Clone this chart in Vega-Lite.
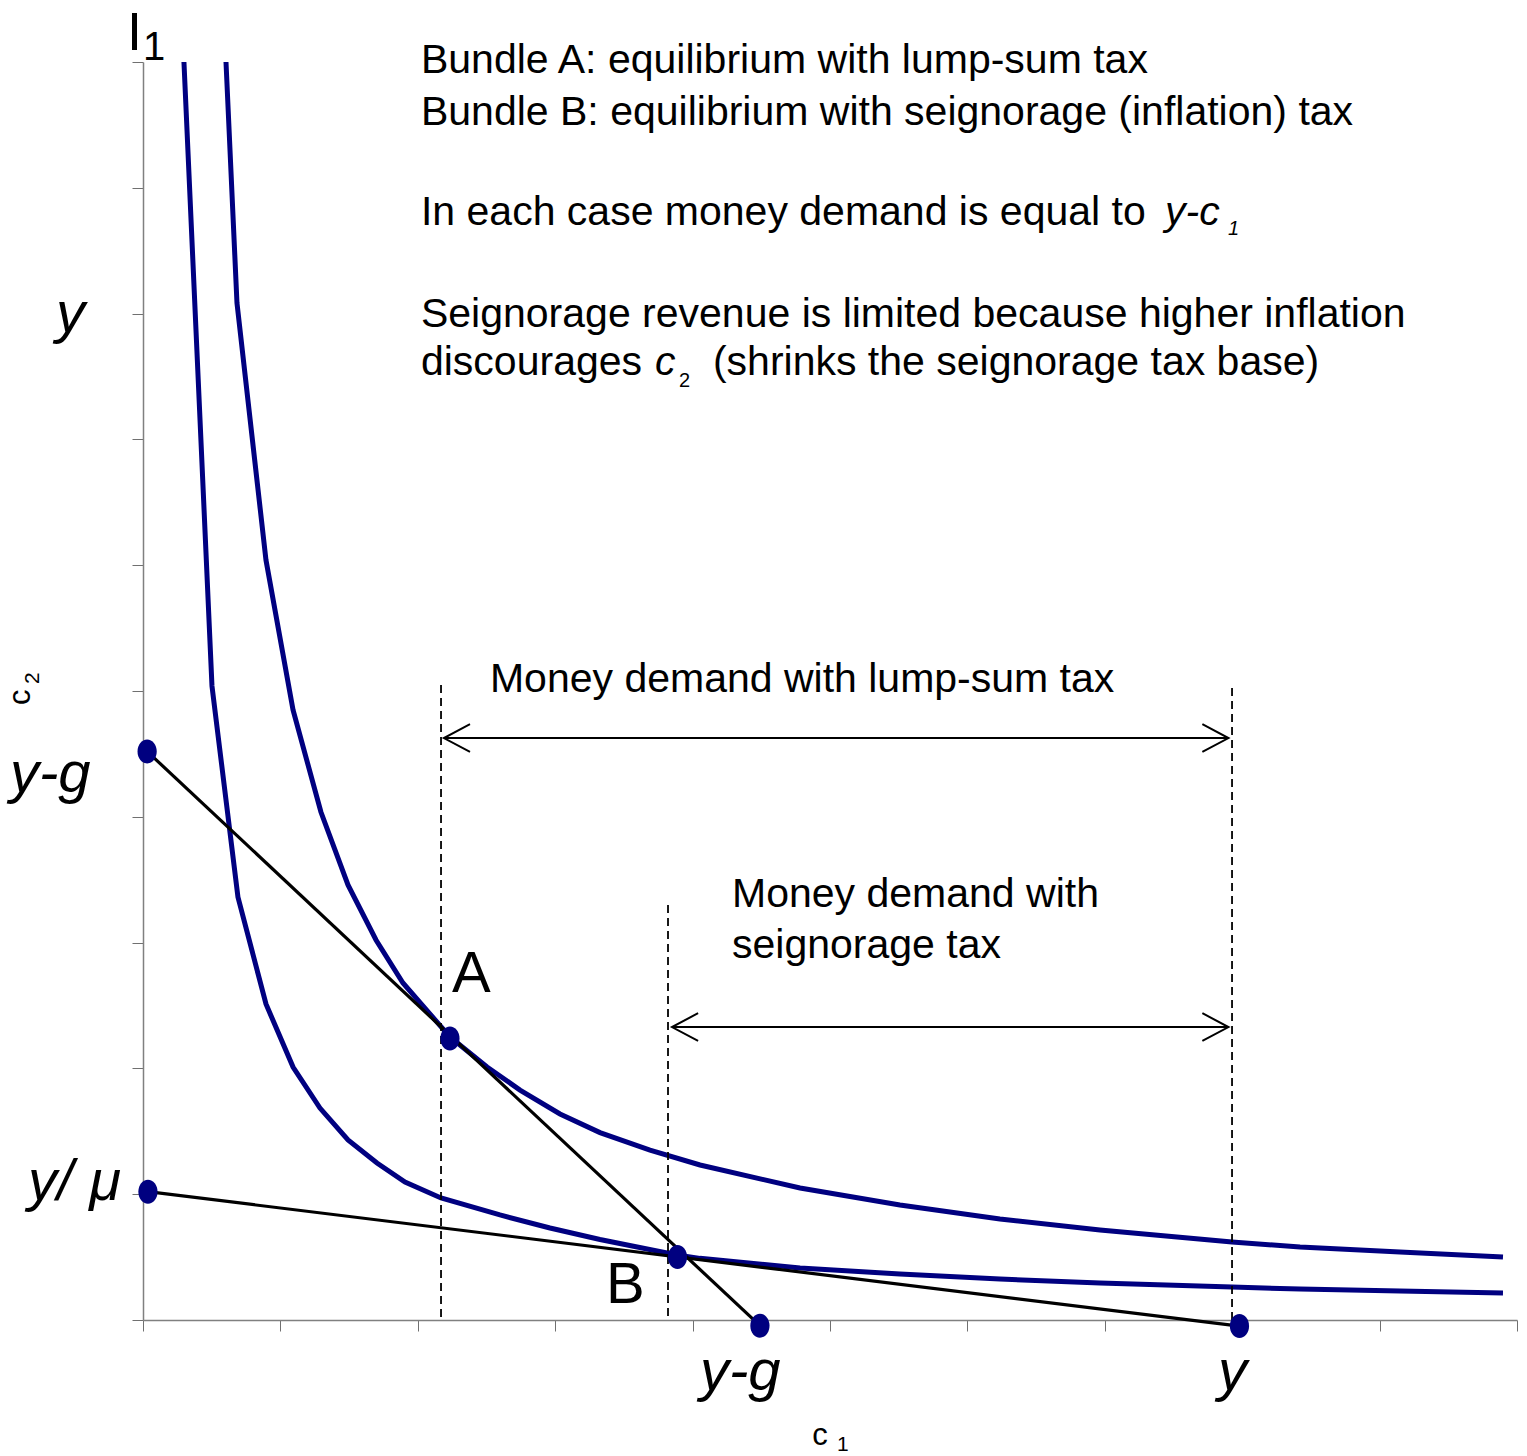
{
  "$schema": "https://vega.github.io/schema/vega-lite/v6.json",
  "width": 1374,
  "height": 1258,
  "autosize": {"type": "none"},
  "padding": {"left": 143, "top": 62, "right": 10, "bottom": 136},
  "background": "white",
  "config": {"view": {"stroke": null}},
  "datasets": {
    "curves": [
      {"id": "outer", "x": 0.604, "y": 10.0},
      {"id": "outer", "x": 0.684, "y": 8.084},
      {"id": "outer", "x": 0.895, "y": 6.041},
      {"id": "outer", "x": 1.092, "y": 4.849},
      {"id": "outer", "x": 1.295, "y": 4.038},
      {"id": "outer", "x": 1.492, "y": 3.458},
      {"id": "outer", "x": 1.696, "y": 3.021},
      {"id": "outer", "x": 1.892, "y": 2.679},
      {"id": "outer", "x": 2.234, "y": 2.25},
      {"id": "outer", "x": 2.504, "y": 2.011},
      {"id": "outer", "x": 2.744, "y": 1.828},
      {"id": "outer", "x": 3.035, "y": 1.638},
      {"id": "outer", "x": 3.326, "y": 1.49},
      {"id": "outer", "x": 3.69, "y": 1.351},
      {"id": "outer", "x": 4.054, "y": 1.232},
      {"id": "outer", "x": 4.782, "y": 1.049},
      {"id": "outer", "x": 5.509, "y": 0.914},
      {"id": "outer", "x": 6.237, "y": 0.803},
      {"id": "outer", "x": 6.965, "y": 0.715},
      {"id": "outer", "x": 7.926, "y": 0.62},
      {"id": "outer", "x": 8.421, "y": 0.58},
      {"id": "outer", "x": 9.148, "y": 0.54},
      {"id": "outer", "x": 9.898, "y": 0.501},
      {"id": "inner", "x": 0.298, "y": 10.0},
      {"id": "inner", "x": 0.502, "y": 5.04},
      {"id": "inner", "x": 0.691, "y": 3.362},
      {"id": "inner", "x": 0.895, "y": 2.512},
      {"id": "inner", "x": 1.092, "y": 2.011},
      {"id": "inner", "x": 1.288, "y": 1.685},
      {"id": "inner", "x": 1.492, "y": 1.431},
      {"id": "inner", "x": 1.703, "y": 1.248},
      {"id": "inner", "x": 1.907, "y": 1.097},
      {"id": "inner", "x": 2.169, "y": 0.97},
      {"id": "inner", "x": 2.598, "y": 0.835},
      {"id": "inner", "x": 2.962, "y": 0.731},
      {"id": "inner", "x": 3.326, "y": 0.64},
      {"id": "inner", "x": 3.886, "y": 0.517},
      {"id": "inner", "x": 4.054, "y": 0.49},
      {"id": "inner", "x": 4.782, "y": 0.413},
      {"id": "inner", "x": 5.509, "y": 0.366},
      {"id": "inner", "x": 6.237, "y": 0.326},
      {"id": "inner", "x": 6.965, "y": 0.294},
      {"id": "inner", "x": 7.926, "y": 0.262},
      {"id": "inner", "x": 8.421, "y": 0.246},
      {"id": "inner", "x": 9.148, "y": 0.231},
      {"id": "inner", "x": 9.898, "y": 0.215}
    ],
    "budget": [
      {"id": "L1", "x": 0.03, "y": 4.52},
      {"id": "L1", "x": 4.49, "y": -0.045},
      {"id": "L2", "x": 0.036, "y": 1.02},
      {"id": "L2", "x": 7.98, "y": -0.048}
    ],
    "dashed": [
      {"id": "d1", "x": 2.169, "y": 5.048},
      {"id": "d1", "x": 2.169, "y": 0},
      {"id": "d2", "x": 3.821, "y": 3.299},
      {"id": "d2", "x": 3.821, "y": 0},
      {"id": "d3", "x": 7.926, "y": 5.024},
      {"id": "d3", "x": 7.926, "y": 0}
    ],
    "arrows": [
      {"id": "s1", "o": 1, "x": 2.19, "y": 4.626},
      {"id": "s1", "o": 2, "x": 7.9, "y": 4.626},
      {"id": "h1L", "o": 1, "x": 2.38, "y": 4.736},
      {"id": "h1L", "o": 2, "x": 2.19, "y": 4.626},
      {"id": "h1L", "o": 3, "x": 2.38, "y": 4.516},
      {"id": "h1R", "o": 1, "x": 7.71, "y": 4.736},
      {"id": "h1R", "o": 2, "x": 7.9, "y": 4.626},
      {"id": "h1R", "o": 3, "x": 7.71, "y": 4.516},
      {"id": "s2", "o": 1, "x": 3.85, "y": 2.329},
      {"id": "s2", "o": 2, "x": 7.9, "y": 2.329},
      {"id": "h2L", "o": 1, "x": 4.04, "y": 2.439},
      {"id": "h2L", "o": 2, "x": 3.85, "y": 2.329},
      {"id": "h2L", "o": 3, "x": 4.04, "y": 2.219},
      {"id": "h2R", "o": 1, "x": 7.71, "y": 2.439},
      {"id": "h2R", "o": 2, "x": 7.9, "y": 2.329},
      {"id": "h2R", "o": 3, "x": 7.71, "y": 2.219}
    ],
    "dots": [
      {"x": 0.03, "y": 4.52},
      {"x": 4.49, "y": -0.045},
      {"x": 0.036, "y": 1.02},
      {"x": 7.98, "y": -0.048},
      {"x": 2.234, "y": 2.238},
      {"x": 3.89, "y": 0.5}
    ],
    "mainText": [
      {"x": 2.023, "y": 9.913, "t": "Bundle A: equilibrium with lump-sum tax"},
      {"x": 2.023, "y": 9.499, "t": "Bundle B: equilibrium with seignorage (inflation) tax"},
      {"x": 2.023, "y": 8.704, "t": "In each case money demand is equal to"},
      {"x": 2.023, "y": 7.893, "t": "Seignorage revenue is limited because higher inflation"},
      {"x": 2.023, "y": 7.512, "t": "discourages"},
      {"x": 4.148, "y": 7.512, "t": "(shrinks the seignorage tax base)"},
      {"x": 2.525, "y": 4.992, "t": "Money demand with lump-sum tax"},
      {"x": 4.287, "y": 3.283, "t": "Money demand with"},
      {"x": 4.287, "y": 2.878, "t": "seignorage tax"}
    ],
    "italicText": [
      {"x": 7.438, "y": 8.704, "t": "y-c"},
      {"x": 3.726, "y": 7.512, "t": "c"}
    ],
    "subItalic": [
      {"x": 7.897, "y": 8.625, "t": "1"}
    ],
    "subPlain": [
      {"x": 3.901, "y": 7.417, "t": "2"}
    ],
    "bigText": [
      {"x": 2.249, "y": 2.607, "t": "A"},
      {"x": 3.37, "y": 0.135, "t": "B"}
    ],
    "bigI": [
      {"x": -0.116, "y": 10.095, "t": "I"}
    ],
    "bigSub": [
      {"x": 0.0, "y": 10.016, "t": "1"}
    ],
    "axisLabels": [
      {"x": -0.633, "y": 7.854, "t": "y"},
      {"x": -0.968, "y": 4.197, "t": "y-g"},
      {"x": -0.837, "y": 0.954, "t": "y/ μ"},
      {"x": 4.054, "y": -0.556, "t": "y-g"},
      {"x": 7.824, "y": -0.556, "t": "y"}
    ],
    "titleC": [
      {"x": 4.87, "y": -0.994, "t": "c"}
    ],
    "titleSub": [
      {"x": 5.051, "y": -1.041, "t": "1"}
    ],
    "titleCRot": [
      {"x": -0.82, "y": 4.889, "t": "c"}
    ],
    "titleSubRot": [
      {"x": -0.76, "y": 5.056, "t": "2"}
    ]
  },
  "encoding": {
    "x": {
      "field": "x",
      "type": "quantitative",
      "scale": {"domain": [0, 10], "nice": false, "zero": false},
      "axis": {"values": [0, 1, 2, 3, 4, 5, 6, 7, 8, 9, 10], "labels": false, "title": null, "grid": false, "tickSize": 11, "domainColor": "#808080", "tickColor": "#707070", "domainWidth": 1.5, "tickWidth": 1}
    },
    "y": {
      "field": "y",
      "type": "quantitative",
      "scale": {"domain": [0, 10], "nice": false, "zero": false},
      "axis": {"values": [0, 1, 2, 3, 4, 5, 6, 7, 8, 9, 10], "labels": false, "title": null, "grid": false, "tickSize": 11, "domainColor": "#808080", "tickColor": "#707070", "domainWidth": 1.5, "tickWidth": 1}
    }
  },
  "layer": [
    {
      "data": {"name": "curves"},
      "mark": {"type": "line", "color": "#000080", "strokeWidth": 5, "clip": false},
      "encoding": {"detail": {"field": "id"}}
    },
    {
      "data": {"name": "budget"},
      "mark": {"type": "line", "color": "black", "strokeWidth": 3.2},
      "encoding": {"detail": {"field": "id"}}
    },
    {
      "data": {"name": "dashed"},
      "mark": {"type": "line", "color": "black", "strokeWidth": 1.8, "strokeDash": [8, 5]},
      "encoding": {"detail": {"field": "id"}}
    },
    {
      "data": {"name": "arrows"},
      "mark": {"type": "line", "color": "black", "strokeWidth": 2},
      "encoding": {"detail": {"field": "id"}, "order": {"field": "o"}}
    },
    {
      "data": {"name": "dots"},
      "mark": {"type": "point", "filled": true, "opacity": 1, "color": "#000080", "size": 576, "shape": "M0,-1A0.8,1,0,1,1,0,1A0.8,1,0,1,1,0,-1Z"}
    },
    {
      "data": {"name": "mainText"},
      "mark": {"type": "text", "align": "left", "baseline": "alphabetic", "font": "Liberation Sans", "fontSize": 41, "color": "black"},
      "encoding": {"text": {"field": "t"}}
    },
    {
      "data": {"name": "italicText"},
      "mark": {"type": "text", "align": "left", "baseline": "alphabetic", "font": "Liberation Sans", "fontSize": 41, "fontStyle": "italic", "color": "black"},
      "encoding": {"text": {"field": "t"}}
    },
    {
      "data": {"name": "subItalic"},
      "mark": {"type": "text", "align": "left", "baseline": "alphabetic", "font": "Liberation Sans", "fontSize": 20, "fontStyle": "italic", "color": "black"},
      "encoding": {"text": {"field": "t"}}
    },
    {
      "data": {"name": "subPlain"},
      "mark": {"type": "text", "align": "left", "baseline": "alphabetic", "font": "Liberation Sans", "fontSize": 20, "color": "black"},
      "encoding": {"text": {"field": "t"}}
    },
    {
      "data": {"name": "bigText"},
      "mark": {"type": "text", "align": "left", "baseline": "alphabetic", "font": "Liberation Sans", "fontSize": 58, "color": "black"},
      "encoding": {"text": {"field": "t"}}
    },
    {
      "data": {"name": "bigI"},
      "mark": {"type": "text", "align": "left", "baseline": "alphabetic", "font": "Liberation Sans", "fontSize": 54, "color": "black"},
      "encoding": {"text": {"field": "t"}}
    },
    {
      "data": {"name": "bigSub"},
      "mark": {"type": "text", "align": "left", "baseline": "alphabetic", "font": "Liberation Sans", "fontSize": 40, "color": "black"},
      "encoding": {"text": {"field": "t"}}
    },
    {
      "data": {"name": "axisLabels"},
      "mark": {"type": "text", "align": "left", "baseline": "alphabetic", "font": "Liberation Sans", "fontSize": 58, "fontStyle": "italic", "color": "black"},
      "encoding": {"text": {"field": "t"}}
    },
    {
      "data": {"name": "titleC"},
      "mark": {"type": "text", "align": "left", "baseline": "alphabetic", "font": "Liberation Sans", "fontSize": 31, "color": "black"},
      "encoding": {"text": {"field": "t"}}
    },
    {
      "data": {"name": "titleSub"},
      "mark": {"type": "text", "align": "left", "baseline": "alphabetic", "font": "Liberation Sans", "fontSize": 21, "color": "black"},
      "encoding": {"text": {"field": "t"}}
    },
    {
      "data": {"name": "titleCRot"},
      "mark": {"type": "text", "align": "left", "baseline": "alphabetic", "angle": 270, "font": "Liberation Sans", "fontSize": 31, "color": "black"},
      "encoding": {"text": {"field": "t"}}
    },
    {
      "data": {"name": "titleSubRot"},
      "mark": {"type": "text", "align": "left", "baseline": "alphabetic", "angle": 270, "font": "Liberation Sans", "fontSize": 21, "color": "black"},
      "encoding": {"text": {"field": "t"}}
    }
  ]
}
